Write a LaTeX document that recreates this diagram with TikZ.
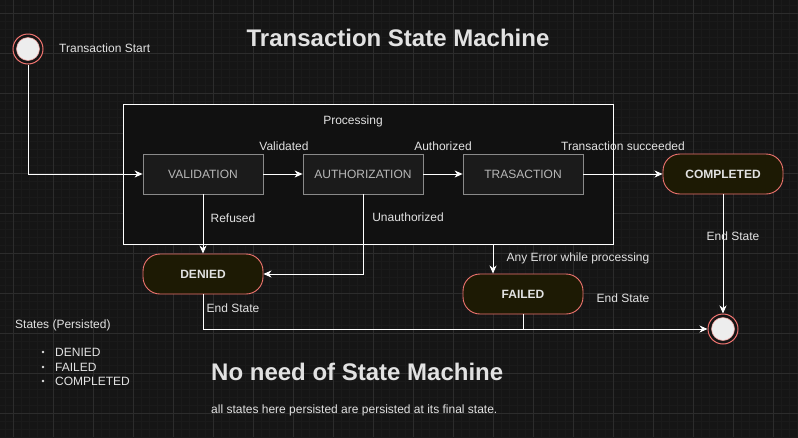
\documentclass[tikz,border=0pt]{standalone}
\usepackage{fontspec}
\setmainfont{Liberation Sans}
\usetikzlibrary{arrows.meta}
\definecolor{bg}{HTML}{151515}
\definecolor{gridminor}{HTML}{1A1A1A}
\definecolor{gridmajor}{HTML}{2C2C2C}
\definecolor{inner}{HTML}{111111}
\definecolor{boxfill}{HTML}{1B1B1B}
\definecolor{boxline}{HTML}{8A8A8A}
\definecolor{boxtext}{HTML}{B8B8B8}
\definecolor{txt}{HTML}{E2E2E2}
\definecolor{redline}{HTML}{F07470}
\definecolor{statefill}{HTML}{1D1A04}
\begin{document}
\begin{tikzpicture}[x=1pt,y=-1pt,
  lbl/.style={text=txt,font=\fontsize{12}{14}\selectfont,inner sep=0pt},
  procbox/.style={draw=boxline,fill=boxfill,minimum width=120pt,minimum height=40pt,text=boxtext,font=\fontsize{12}{14}\selectfont,inner sep=0pt,line width=0.8pt},
  statebox/.style={draw=redline,fill=statefill,rounded corners=17pt,minimum width=120pt,minimum height=40pt,text=txt,font=\fontsize{12}{14}\bfseries\selectfont,inner sep=0pt,line width=0.9pt},
  flow/.style={draw=white,line width=0.9pt,-{Stealth[length=8pt,width=7pt,inset=2.5pt]}},
  plain/.style={draw=white,line width=0.9pt}]
\useasboundingbox (0,0) rectangle (798,437);
\fill[bg] (0,0) rectangle (798,437);
% grid
\foreach \i in {5,13,...,797} \draw[gridminor,line width=0.5pt] (\i,0) -- (\i,437);
\foreach \i in {5,13,...,437} \draw[gridminor,line width=0.5pt] (0,\i) -- (798,\i);
\foreach \i in {13,53,...,797} \draw[gridmajor,line width=0.8pt] (\i,0) -- (\i,437);
\foreach \i in {13,53,...,437} \draw[gridmajor,line width=0.8pt] (0,\i) -- (798,\i);

% title
\node[text=txt,font=\fontsize{24}{28}\bfseries\selectfont,inner sep=0pt] (title) at (398,38) {Transaction State Machine};

% container
\node[draw=white,fill=inner,minimum width=490pt,minimum height=140pt,inner sep=0pt,line width=0.8pt] (proc) at (368,174) {};
\node[lbl] (proclbl) at (353,121) {Processing};

% start
\node[circle,draw=redline,fill=bg,minimum size=30pt,inner sep=0pt,line width=1pt] (start) at (28,49) {};
\node[circle,draw=redline!70,fill=white!93!black,minimum size=23pt,inner sep=0pt,line width=0.5pt] at (28,49) {};
\node[lbl,anchor=west] (startlbl) at (59,48) {Transaction Start};

% process boxes
\node[procbox] (val) at (203,174) {VALIDATION};
\node[procbox] (auth) at (363,174) {AUTHORIZATION};
\node[procbox] (tra) at (523,174) {TRASACTION};

% states
\node[statebox] (comp) at (723,174) {COMPLETED};
\node[statebox] (den) at (203,274) {DENIED};
\node[statebox] (fail) at (523,294) {FAILED};

% end
\node[circle,draw=redline,fill=bg,minimum size=30pt,inner sep=0pt,line width=1pt] (end) at (723,329) {};
\node[circle,draw=redline!70,fill=white!93!black,minimum size=23pt,inner sep=0pt,line width=0.5pt] at (723,329) {};

% connectors
\draw[flow] (start) |- (val);
\draw[flow] (val) -- (auth);
\draw[flow] (auth) -- (tra);
\draw[flow] (tra) -- (comp);
\draw[flow] (val) -- (den);
\draw[flow] (auth.south) |- (den.east);
\coordinate (failin) at ([xshift=-30pt]fail.north);
\draw[flow] (failin |- proc.south) -- (failin);
\draw[flow] (comp) -- (end);
\draw[flow] (den.south) |- (end.west);
\draw[plain] (fail.south) -- (fail.south |- end.west);

% labels
\node[lbl] at (284,146) {Validated};
\node[lbl] at (443,146) {Authorized};
\node[lbl] at (623,146) {Transaction succeeded};
\node[lbl] at (233,218) {Refused};
\node[lbl] at (408,217) {Unauthorized};
\node[lbl] at (578,258) {Any Error while processing};
\node[lbl] at (733,236) {End State};
\node[lbl] at (233,308) {End State};
\node[lbl] at (623,298) {End State};

% legend
\node[lbl,anchor=west] at (15,325) {States (Persisted)};
\foreach \y/\t in {352/DENIED,367/FAILED,381/COMPLETED}{
  \fill[txt] (43,\y) circle (1.4pt);
  \node[lbl,anchor=west] at (55,\y) {\t};
}
\node[text=txt,font=\fontsize{24}{28}\bfseries\selectfont,inner sep=0pt,anchor=west] at (211,372) {No need of State Machine};
\node[lbl,anchor=west] at (211,410) {all states here persisted are persisted at its final state.};
\end{tikzpicture}
\end{document}
